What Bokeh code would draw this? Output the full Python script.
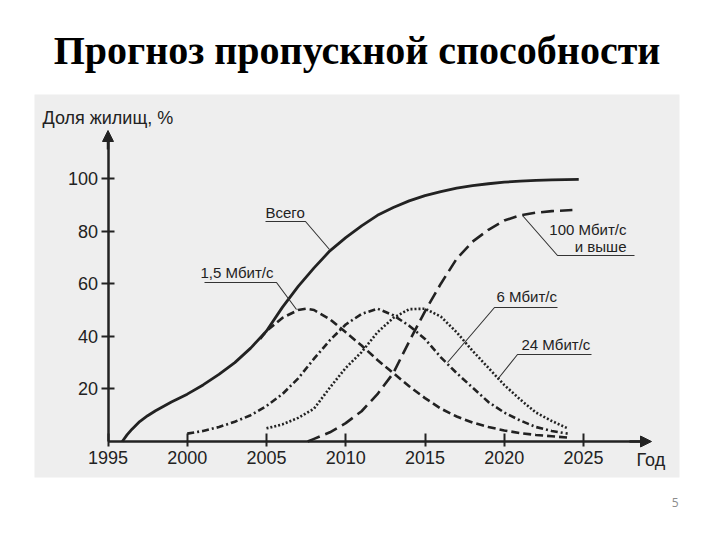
from bokeh.plotting import figure
from bokeh.models import Range1d, FixedTicker, Arrow, NormalHead, Label, Title
from bokeh.core.properties import value
from bokeh.embed import file_html
from bokeh.resources import INLINE

# ---------------- data ----------------
total_years = [1995.9, 1996.2, 1996.5, 1997, 1997.5, 1998, 1999, 2000, 2001, 2002, 2003, 2004,
               2005, 2006, 2007, 2008, 2009, 2010, 2011, 2012, 2013, 2014, 2015, 2016,
               2017, 2018, 2019, 2020, 2021, 2022, 2023, 2024.7]
total_vals = [0, 2.5, 4.6, 7.6, 9.8, 11.7, 15, 18, 21.5, 25.5, 30, 35.5,
              42, 51, 59, 66, 72.5, 77.5, 82, 86, 89, 91.5, 93.5, 95,
              96.3, 97.3, 98, 98.6, 99, 99.3, 99.5, 99.7]

s15_years = [2004.6, 2005, 2006, 2007, 2007.5, 2008, 2009, 2010, 2011, 2012, 2013, 2014,
             2015, 2016, 2017, 2018, 2019, 2020, 2021, 2022, 2023, 2024]
s15_vals = [39, 42, 47, 50, 50.5, 50, 46.5, 41.5, 36.5, 31, 26, 21,
            16.5, 12.5, 9.5, 7.2, 5.5, 4.2, 3.2, 2.5, 2, 1.5]

s6_years = [2000, 2001, 2002, 2003, 2004, 2005, 2006, 2007, 2008, 2009, 2010, 2011, 2012,
            2013, 2014, 2015, 2016, 2017, 2018, 2019, 2020, 2021, 2022, 2023, 2024]
s6_vals = [3, 4, 5.5, 7.5, 10, 13.5, 18, 24, 31.5, 38.5, 44.5, 48.5, 50.5,
           48, 44, 39, 32, 26, 20.5, 15, 11, 8, 5.5, 4, 3]

s24_years = [2005, 2006, 2007, 2008, 2009, 2010, 2011, 2012, 2013, 2014, 2015, 2016,
             2017, 2018, 2019, 2020, 2021, 2022, 2023, 2024]
s24_vals = [5, 6.5, 9, 12.5, 20.5, 28, 34, 41.5, 47, 50.3, 50.5, 47.5,
            41.5, 34.5, 28, 21.5, 16, 11, 7.8, 5]

s100_years = [2007.6, 2008, 2009, 2010, 2011, 2012, 2013, 2014, 2015, 2016, 2017, 2018,
              2019, 2020, 2021, 2022, 2023, 2024.3]
s100_vals = [0, 1, 3.5, 7, 11.5, 18, 26, 38, 49.5, 60, 69.5, 76,
             80.5, 84, 86, 87, 87.6, 88]

x_ticks = [1995, 2000, 2005, 2010, 2015, 2020, 2025]
y_ticks = [20, 40, 60, 80, 100]

title_text = "Прогноз пропускной способности"
y_title = "Доля жилищ, %"
x_title = "Год"
page_no = "5"

# ---------------- geometry helpers (page pixels -> data) ----------------
X0_PX, X_PER = 108.5, 15.85      # page x of 1995, px per year
Y0_PX, Y_PER = 442.0, 2.63       # page y of 0 %, px per percent

def dx(px):
    return 1995 + (px - X0_PX) / X_PER

def dy(py):
    return (Y0_PX - py) / Y_PER

INK = "#222222"

p = figure(width=711, height=539, output_backend="svg", toolbar_location=None,
           x_range=Range1d(dx(35), dx(680)), y_range=Range1d(dy(478), dy(95)),
           min_border_left=34, min_border_right=32, min_border_top=94, min_border_bottom=62)
p.background_fill_color = "#eeeeee"
p.border_fill_color = "white"
p.outline_line_color = None
p.xgrid.visible = False
p.ygrid.visible = False

# slide title
p.title.text = title_text
p.title.align = "center"
p.title.text_font = "Liberation Serif"
p.title.text_font_size = "40px"
p.title.text_font_style = "bold"
p.title.text_color = "black"
p.title.standoff = 44

# page number
p.add_layout(Title(text=page_no, align="right", text_font="Open Sans",
                   text_font_size="12px", text_font_style="normal",
                   text_color="#8c8c8c", standoff=40, offset=1,
                   vertical_align="top"), "below")

# axes drawn at the origin inside the scanned area
xa = p.xaxis[0]
ya = p.yaxis[0]
xa.fixed_location = 0
ya.fixed_location = 1995
xa.bounds = (1995, dx(645))
ya.bounds = (0, dy(140))
xa.ticker = FixedTicker(ticks=x_ticks)
ya.ticker = FixedTicker(ticks=y_ticks)
for ax in (xa, ya):
    ax.axis_line_color = INK
    ax.axis_line_width = 2.5
    ax.major_tick_line_color = INK
    ax.major_tick_line_width = 2
    ax.minor_tick_line_color = None
    ax.major_label_text_font = "Liberation Sans"
    ax.major_label_text_font_size = "18px"
    ax.major_label_text_color = INK
xa.major_tick_in = 8
xa.major_tick_out = 5
xa.major_label_standoff = 4
ya.major_tick_in = 6
ya.major_tick_out = 7
ya.major_label_standoff = 3

p.add_layout(Arrow(end=NormalHead(size=11, fill_color=INK, line_color=INK),
                   x_start=dx(630), y_start=0, x_end=dx(652), y_end=0,
                   line_color=INK, line_width=2.5))
p.add_layout(Arrow(end=NormalHead(size=11, fill_color=INK, line_color=INK),
                   x_start=1995, y_start=dy(150), x_end=1995, y_end=dy(131),
                   line_color=INK, line_width=2.5))

# curves
p.line(total_years, total_vals, line_color=INK, line_width=2.8)
p.line(s15_years, s15_vals, line_color=INK, line_width=2.6, line_dash="8 4")
p.line(s6_years, s6_vals, line_color=INK, line_width=2.6, line_dash="7 3 2 3")
p.line(s24_years, s24_vals, line_color=INK, line_width=2.6, line_dash="2 2")
p.line(s100_years, s100_vals, line_color=INK, line_width=2.6, line_dash="13 6")

# annotation labels + leader lines
ann_font = value("Liberation Sans")
ann_size = value("15px")
p.text(x=[dx(266), dx(201), dx(497), dx(522)],
       y=[dy(213), dy(273), dy(297), dy(345)],
       text=["Всего", "1,5 Мбит/с", "6 Мбит/с", "24 Мбит/с"],
       text_font=ann_font, text_font_size=ann_size, text_color=INK,
       text_align="left", text_baseline="middle")
p.text(x=[dx(627), dx(627)], y=[dy(230), dy(247)],
       text=["100 Мбит/с", "и выше"],
       text_font=ann_font, text_font_size=ann_size, text_color=INK,
       text_align="right", text_baseline="middle")

leaders = [
    [(266, 222), (306, 222), (330, 250)],
    [(205, 283), (277, 283), (297, 310)],
    [(635, 256), (558, 256), (523, 216)],
    [(558, 308), (495, 308), (448, 363)],
    [(592, 355), (518, 355), (498, 380)],
]
p.multi_line(xs=[[dx(a) for a, b in L] for L in leaders],
             ys=[[dy(b) for a, b in L] for L in leaders],
             line_color="#333333", line_width=1.1)

# axis titles
p.add_layout(Label(x=dx(43), y=dy(118), text=y_title, text_font="Liberation Sans",
                   text_font_size="18px", text_color=INK, text_align="left",
                   text_baseline="middle"))
p.add_layout(Label(x=dx(637), y=dy(460), text=x_title, text_font="Liberation Sans",
                   text_font_size="18px", text_color=INK, text_align="left",
                   text_baseline="middle"))

open("out.html", "w").write(file_html(p, INLINE))
